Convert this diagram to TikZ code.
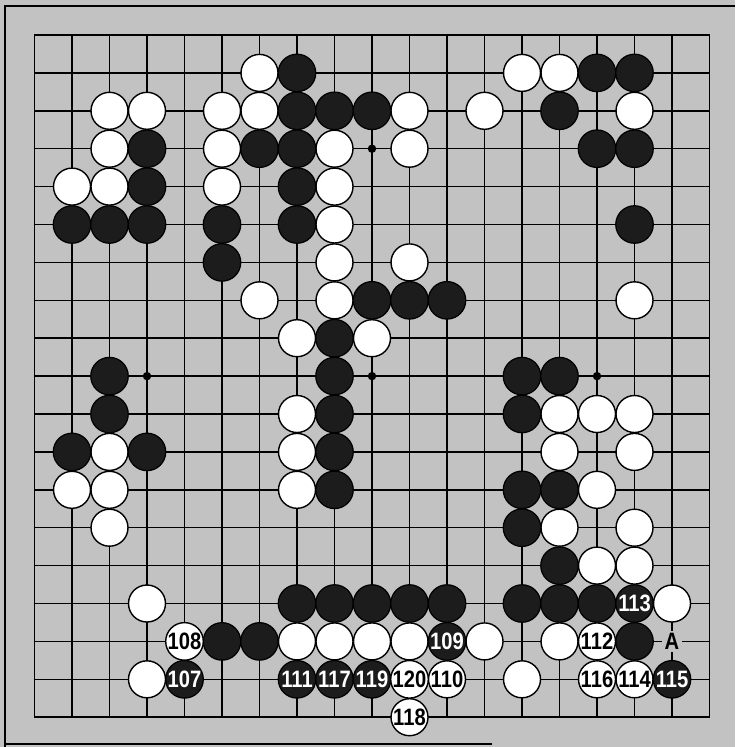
\documentclass[tikz,border=0pt]{standalone}
\usepackage{fontspec}
\newfontfamily\numfont[FakeStretch=0.85]{Liberation Sans}
\definecolor{boardgray}{gray}{0.76}
\definecolor{stoneblack}{gray}{0.11}

\begin{document}
\begin{tikzpicture}[x=0.75cm,y=-0.758cm,line width=.85pt,
  bst/.style={circle,draw=black,fill=stoneblack,line width=.7pt,minimum size=0.75cm,inner sep=0pt,
    text=white,font=\numfont\bfseries\fontsize{13.5}{14}\selectfont},
  wst/.style={circle,draw=black,fill=white,line width=.8pt,minimum size=0.74cm,inner sep=0pt,
    text=black,font=\numfont\bfseries\fontsize{13.5}{14}\selectfont}]
\useasboundingbox (0.08,0.0765) rectangle (19.68,19.786);
\fill[boardgray] (0.08,0.0765) rectangle (19.68,19.786);
% frame
\draw[line width=1.4pt] (0.213,19.786)--(0.213,0.235)--(19.68,0.235);
\draw[line width=1.2pt] (0.213,19.71)--(13.2,19.71);
% grid
\foreach \i in {2,...,18} {
  \draw (\i,1)--(\i,19);
  \draw (1,\i)--(19,\i);
}
\draw[line width=1.1pt] (1,1) rectangle (19,19);
\foreach \c in {4,10,16}
  \foreach \r in {4,10,16}
    \fill (\c,\r) circle[radius=2.4pt];
% black stones
\foreach \c/\r in {8/2,16/2,17/2, 8/3,9/3,10/3,15/3, 4/4,7/4,8/4,16/4,17/4, 4/5,8/5,
  2/6,3/6,4/6,6/6,8/6,17/6, 6/7, 10/8,11/8,12/8, 9/9, 3/10,9/10,14/10,15/10,
  3/11,9/11,14/11, 2/12,4/12,9/12, 9/13,14/13,15/13, 14/14, 15/15,
  8/16,9/16,10/16,11/16,12/16,14/16,15/16,16/16, 6/17,7/17,17/17}
  \node[bst] (b\c-\r) at (\c,\r) {};
% white stones
\foreach \c/\r in {7/2,14/2,15/2, 3/3,4/3,6/3,7/3,11/3,13/3,17/3, 3/4,6/4,9/4,11/4,
  2/5,3/5,6/5,9/5, 9/6, 9/7,11/7, 7/8,9/8,17/8, 8/9,10/9, 8/11,15/11,16/11,17/11,
  3/12,8/12,15/12,17/12, 2/13,3/13,8/13,16/13, 3/14,15/14,17/14, 16/15,17/15,
  4/16,18/16, 8/17,9/17,10/17,11/17,13/17,15/17, 4/18,14/18}
  \node[wst] (w\c-\r) at (\c,\r) {};
% numbered moves
\node[bst] (m107) at (5,18) {107};
\node[wst] (m108) at (5,17) {108};
\node[bst] (m109) at (12,17) {109};
\node[wst] (m110) at (12,18) {110};
\node[bst] (m111) at (8,18) {111};
\node[wst] (m112) at (16,17) {112};
\node[bst] (m113) at (17,16) {113};
\node[wst] (m114) at (17,18) {114};
\node[bst] (m115) at (18,18) {115};
\node[wst] (m116) at (16,18) {116};
\node[bst] (m117) at (9,18) {117};
\node[wst] (m118) at (11,19) {118};
\node[bst] (m119) at (10,18) {119};
\node[wst] (m120) at (11,18) {120};
\node[fill=boardgray,inner sep=1.5pt,font=\numfont\bfseries\fontsize{13.5}{14}\selectfont] (ptA) at (18,17) {A};
\end{tikzpicture}
\end{document}
